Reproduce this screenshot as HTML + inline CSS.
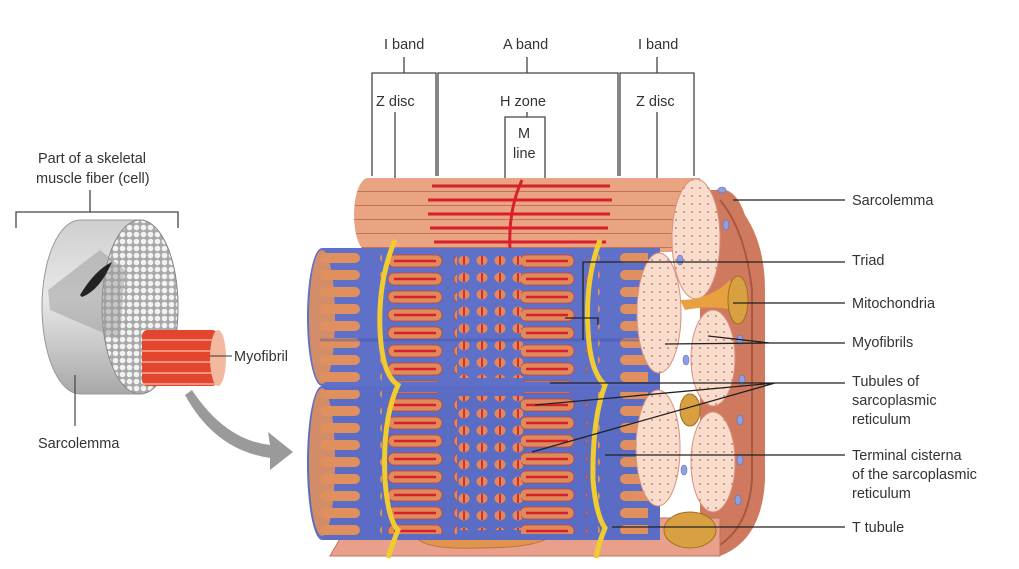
<!DOCTYPE html>
<html><head><meta charset="utf-8"><style>
body{margin:0;background:#fff;}
svg{display:block;font-family:"Liberation Sans",sans-serif;}
text{font-size:14.5px;fill:#333;}
</style></head><body>
<svg width="1019" height="569" viewBox="0 0 1019 569" xmlns="http://www.w3.org/2000/svg">
<defs>
<pattern id="loz" x="385" y="252" width="66" height="18" patternUnits="userSpaceOnUse">
<rect x="3" y="3" width="54" height="12" rx="6" fill="#e08a5c" stroke="#c8402c" stroke-width="0.8"/>
<line x1="9" y1="9" x2="51" y2="9" stroke="#d8202c" stroke-width="2.4"/>
</pattern>
<pattern id="blob" x="455" y="252" width="18" height="17" patternUnits="userSpaceOnUse">
<ellipse cx="9" cy="8.5" rx="5.5" ry="5" fill="#e08a5c"/>
<line x1="9" y1="4" x2="9" y2="13" stroke="#d8202c" stroke-width="1.8"/>
</pattern>
<pattern id="finger" x="320" y="250" width="60" height="17" patternUnits="userSpaceOnUse">
<rect x="0" y="3" width="40" height="10" rx="5" fill="#e0905e"/>
</pattern>
<pattern id="dots" width="8" height="8" patternUnits="userSpaceOnUse">
<rect width="8" height="8" fill="#f8dccc"/>
<circle cx="4" cy="4" r="0.9" fill="#d06060"/>
</pattern>
<pattern id="hstripe" x="355" y="178" width="10" height="14" patternUnits="userSpaceOnUse">
<rect width="10" height="14" fill="#e9a582"/>
<line x1="0" y1="13.5" x2="10" y2="13.5" stroke="#c87058" stroke-width="1"/>
</pattern>
<pattern id="gray" width="7" height="7" patternUnits="userSpaceOnUse">
<rect width="7" height="7" fill="#a8a8a8"/><circle cx="3.5" cy="3.5" r="2.8" fill="#f2f2f2"/>
</pattern>
<pattern id="redfib" x="140" y="330" width="12" height="11" patternUnits="userSpaceOnUse">
<rect width="12" height="11" fill="#e4452e"/><line x1="0" y1="10" x2="12" y2="10" stroke="#f6b09a" stroke-width="1.5"/>
</pattern>
<linearGradient id="gcyl" x1="0" y1="0" x2="0" y2="1">
<stop offset="0" stop-color="#cfcfcf"/><stop offset="0.45" stop-color="#e8e8e8"/><stop offset="1" stop-color="#a8a8a8"/>
</linearGradient>
</defs>

<!-- LEFT small fiber -->
<text x="38" y="163">Part of a skeletal</text>
<text x="36" y="183">muscle fiber (cell)</text>
<path d="M16 228 V212 H178 V228 M90 212 V190" fill="none" stroke="#444" stroke-width="1.3"/>
<path d="M80 220 H140 A38 87 0 0 1 140 394 H80 A38 87 0 0 1 80 220 Z" fill="url(#gcyl)" stroke="#999"/>
<ellipse cx="140" cy="307" rx="38" ry="87" fill="url(#gray)" stroke="#888"/>
<path d="M48 290 L100 250 L125 270 L120 340 L50 310 Z" fill="#999" opacity="0.5"/>
<path d="M80 295 Q95 270 112 262 Q100 290 82 297 Z" fill="#222"/>
<rect x="142" y="330" width="76" height="56" rx="6" fill="url(#redfib)"/>
<ellipse cx="218" cy="358" rx="8" ry="28" fill="#f3b8a0"/>
<line x1="210" y1="356" x2="232" y2="356" stroke="#333"/>
<text x="234" y="361">Myofibril</text>
<line x1="75" y1="375" x2="75" y2="426" stroke="#444" stroke-width="1.2"/>
<text x="38" y="448">Sarcolemma</text>
<path d="M192 390 Q225 440 270 445 L268 432 L293 452 L270 470 L270 458 Q215 450 185 395 Z" fill="#9a9a9a"/>

<!-- top labels / brackets -->
<g stroke="#444" stroke-width="1.3" fill="none">
<path d="M372 176 V73 H436 V176 M404 73 V57"/>
<path d="M438 176 V73 H618 V176 M527 73 V57"/>
<path d="M620 176 V73 H694 V176 M657 73 V57"/>
<path d="M395 185 V112 M657 185 V112"/>
<path d="M505 180 V117 H545 V180 M527 117 V112"/>
</g>
<text x="384" y="49">I band</text>
<text x="503" y="49">A band</text>
<text x="638" y="49">I band</text>
<text x="376" y="106">Z disc</text>
<text x="500" y="106">H zone</text>
<text x="636" y="106">Z disc</text>
<text x="518" y="138">M</text>
<text x="513" y="158">line</text>

<!-- right sarcolemma outer -->
<path d="M715 190 Q735 185 745 215 Q765 245 765 290 V480 Q762 540 720 556 L700 556 L700 190 Z" fill="#cf7a5e"/>
<path d="M720 200 Q745 230 752 290 V480 Q748 530 715 548" fill="none" stroke="#a85840" stroke-width="2"/>

<!-- base plate -->
<path d="M330 556 L352 518 L720 518 L720 556 Z" fill="#e8a08a" stroke="#c07060"/>
<path d="M415 520 Q420 510 500 512 Q560 510 555 530 Q550 548 480 548 Q420 550 415 535 Z" fill="#e0944e" stroke="#c07040"/>

<!-- top cylinder -->
<path d="M368 178 H700 V252 H368 A14 37 0 0 1 368 178 Z" fill="url(#hstripe)"/>
<g stroke="#d8202c" stroke-width="3">
<line x1="432" y1="186" x2="610" y2="186"/><line x1="428" y1="200" x2="612" y2="200"/>
<line x1="428" y1="214" x2="610" y2="214"/><line x1="430" y1="228" x2="608" y2="228"/>
<line x1="434" y1="242" x2="606" y2="242"/>
</g>
<path d="M522 180 Q508 210 510 250" stroke="#d8202c" stroke-width="3" fill="none"/>
<ellipse cx="696" cy="239" rx="24" ry="60" fill="url(#dots)" stroke="#d89080"/>

<!-- middle cylinder -->
<path d="M322 248 H660 V386 H322 A15 69 0 0 1 322 248 Z" fill="#5e70c8"/>
<rect x="320" y="250" width="62" height="132" fill="url(#finger)"/>
<ellipse cx="322" cy="317" rx="13" ry="67" fill="#e0905e" opacity="0.9"/>
<rect x="385" y="252" width="72" height="130" fill="url(#loz)"/>
<rect x="457" y="256" width="66" height="122" fill="url(#blob)"/>
<rect x="521" y="252" width="66" height="130" fill="url(#loz)"/>
<rect x="598" y="252" width="50" height="130" fill="url(#finger)"/>
<path d="M320 340 H660" stroke="#4050a8" stroke-width="3" opacity="0.4"/>

<!-- bottom cylinder -->
<path d="M322 386 H660 V540 H322 A15 77 0 0 1 322 386 Z" fill="#5a6cc4"/>
<rect x="320" y="390" width="62" height="146" fill="url(#finger)"/>
<ellipse cx="322" cy="462" rx="13" ry="74" fill="#e0905e" opacity="0.9"/>
<rect x="385" y="392" width="72" height="142" fill="url(#loz)"/>
<rect x="457" y="396" width="66" height="134" fill="url(#blob)"/>
<rect x="521" y="392" width="66" height="142" fill="url(#loz)"/>
<rect x="598" y="392" width="50" height="142" fill="url(#finger)"/>

<!-- yellow T tubules -->
<g stroke="#f0cc30" stroke-width="5" fill="none">
<path d="M395 240 Q378 280 380 330 Q382 375 398 385 Q382 420 385 480 Q388 520 398 530 Q392 545 388 558"/>
<path d="M600 240 Q585 280 588 330 Q590 372 605 385 Q592 420 593 480 Q596 515 605 528 Q598 545 596 558"/>
</g>

<!-- right end fibrils -->
<ellipse cx="659" cy="313" rx="22" ry="60" fill="url(#dots)" stroke="#d89080"/>
<ellipse cx="713" cy="358" rx="22" ry="48" fill="url(#dots)" stroke="#d89080"/>
<ellipse cx="658" cy="448" rx="22" ry="58" fill="url(#dots)" stroke="#d89080"/>
<ellipse cx="713" cy="462" rx="22" ry="50" fill="url(#dots)" stroke="#d89080"/>
<path d="M680 300 Q710 300 730 280 L735 310 Q710 305 685 310 Z" fill="#e8a040"/>
<ellipse cx="738" cy="300" rx="10" ry="24" fill="#d8a040" stroke="#a07020"/>
<ellipse cx="690" cy="410" rx="10" ry="16" fill="#d8a040" stroke="#a07020"/>
<ellipse cx="690" cy="530" rx="26" ry="18" fill="#d8a040" stroke="#a07020"/>
<g fill="#8fa0e0" stroke="#6070c0" stroke-width="0.6">
<ellipse cx="722" cy="190" rx="4" ry="3"/><ellipse cx="726" cy="225" rx="3" ry="5"/>
<ellipse cx="740" cy="340" rx="3" ry="5"/><ellipse cx="742" cy="380" rx="3" ry="5"/>
<ellipse cx="740" cy="420" rx="3" ry="5"/><ellipse cx="740" cy="460" rx="3" ry="5"/>
<ellipse cx="738" cy="500" rx="3" ry="5"/><ellipse cx="686" cy="360" rx="3" ry="5"/>
<ellipse cx="684" cy="470" rx="3" ry="5"/><ellipse cx="680" cy="260" rx="3" ry="5"/>
</g>

<!-- leader lines -->
<g stroke="#222" stroke-width="1.3" fill="none">
<path d="M733 200 H845"/>
<path d="M583 340 V262 H845"/>
<path d="M565 318 H598 V325"/>
<path d="M733 303 H845"/>
<path d="M665 344 L768 343 H845 M708 336 L770 343"/>
<path d="M550 383 L765 383 H845 M535 405 L775 383 M532 452 L775 383"/>
<path d="M605 455 H845"/>
<path d="M612 527 H845"/>
</g>
<text x="852" y="205">Sarcolemma</text>
<text x="852" y="265">Triad</text>
<text x="852" y="308">Mitochondria</text>
<text x="852" y="347">Myofibrils</text>
<text x="852" y="386">Tubules of</text>
<text x="852" y="405">sarcoplasmic</text>
<text x="852" y="424">reticulum</text>
<text x="852" y="460">Terminal cisterna</text>
<text x="852" y="479">of the sarcoplasmic</text>
<text x="852" y="498">reticulum</text>
<text x="852" y="532">T tubule</text>
</svg>
</body></html>
